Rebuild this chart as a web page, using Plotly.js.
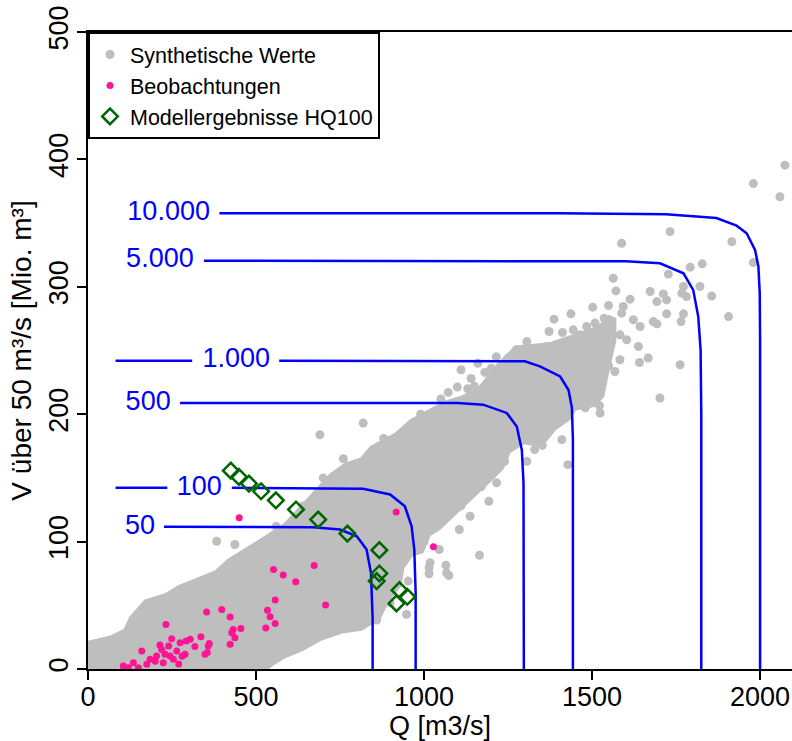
<!DOCTYPE html>
<html>
<head>
<meta charset="utf-8">
<script src="https://cdn.plot.ly/plotly-3.0.1.min.js"></script>
<style>html,body{margin:0;padding:0;background:#fff;}#chart{width:792px;height:741px;}</style>
</head>
<body>
<div id="chart"></div>
<script>
// ---- Dense core of the synthetic cloud (outline, Q / V) ----
const cloudQ = [0,36,74,116,134,176,235,274,333,384,423,491,533,592,670,729,771,818,848,920,967,1018,1068,1116,1167,1226,1277,1375,1464,1524,1559,
  1559,1539,1524,1503,1443,1426,1384,1345,1295,1247,1226,1187,1128,1098,1039,1009,988,958,929,920,884,860,810,750,690,631,580,542,518,0];
const cloudV = [18.6,20.9,23.3,28.8,39,51.5,56.2,62.5,67.9,74.2,83.6,93.8,101.6,111.8,133,151,158.9,162.8,172.2,182.4,193.3,201.2,207.5,211.4,217.6,237.2,250.6,252.9,260.7,266.2,275.6,
  258.4,234.9,215.3,209,205.9,198.1,190.2,177.7,180.1,172.2,158.9,148.7,133,125.2,111.8,107.1,93.8,91.5,80.5,66.4,54.6,41.3,33.5,31.1,25.6,17,11.5,5.3,0,0];

// ---- Individual synthetic values outside / on the edge of the dense core ----
const synQ = [2074,1980,2059,1732,1588,1916,1980,1792,1828,1727,1563,1571,1673,1712,1722,1693,1772,1767,1781,1821,1856,1906,1772,1765,1722,1682,1693,1613,1593,1588,1549,1502,1536,1437,1387,1509,1484,1519,1537,1444,1464,1412,1372,1623,1643,1583,1603,1638,1519,1504,1539,1667,1641,1583,1549,1568,1762,1702,1306,1274,1325,1365,1410,1474,1110,1181,1099,1072,1522,1524,1410,1428,1352,1329,1306,1193,1216,1105,1137,1165,1045,1065,1074,1015,1015,948,953,810,859,899,690,819,383,437,1018,1067,1140,1160,1200,1215,1250,1180,1130,
  560,640,700,760,880,990,1050,1150,600,720,830,900,940,1000,1060,1110,1170,1240,1320,1400,1480];
const synV = [395.5,381,370.7,343.3,334.2,335.4,319,315.4,318,310,306.7,296.8,296.3,294.4,289.7,288.4,300.2,295,292.3,300.2,292.8,276.6,278.8,272.7,278.8,272.7,270.9,290.3,284.5,279.3,285.3,284,275.4,278.8,274.6,271.5,268.8,264.9,264.1,266.2,262.3,264.1,264.9,274.1,268.8,262.3,258.4,253.1,253.1,249.2,248,244.1,240.6,242.7,238,233.5,238.8,212.7,257,250.5,250.5,253.1,249.8,253.1,234.9,232.8,221.3,217.1,206.7,200.9,180,160.4,175.5,172.2,163,131.7,146.1,109.5,119.9,89.3,93.8,81.5,73.4,79.5,74.8,42.9,69,34.5,38.4,52,183.9,193.1,100.3,97.7,83.4,75.5,228,240,236,245,244,222,220,
  112,128,150,165,181,200,212,222,18,30,42,63,86,100,118,128,143,163,182,195,205];

// ---- Observations ----
const obsQ = [450,917,1028,673,552,581,618,557,707,353,398,423,534,542,557,529,232,432,455,428,437,423,336,358,348,318,292,304,274,249,214,219,264,289,244,204,160,185,135,105,224,175,254,229,361,355,270,200,150,120,240,280];
const obsV = [118.7,123.3,95.9,81.3,78.1,73.7,68.5,54.1,50.2,44.7,46.8,40.8,46.2,41.1,35.8,32.1,35,31.1,31.7,28.5,24.6,19.4,25.4,18,11.5,17.6,21.9,23.3,20.7,23.8,18.8,15.4,14.1,11.5,10.2,10.2,14.1,7.6,5,2.4,5,3.7,7.6,11.5,20,13,4,6,1,1,18,10];

// ---- Model results HQ100 ----
const hqQ = [425,449,479,515,559,619,685,772,867,867,859,927,950,918];
const hqV = [155.7,150.8,145.5,139.5,132.4,125.2,117.3,106.3,93.3,75,69,61.9,56.7,51.5];

// ---- Return-period isolines ----
const iso10000Q = [391,1400,1720,1870,1930,1960,1985,1995,1999,2000,2000];
const iso10000V = [357.7,357.7,357,354,348,342,329,316,295,260,0];
const iso5000Q = [345,1400,1600,1702,1772,1801,1816,1823,1825,1825];
const iso5000V = [320.5,320.5,320,318.5,310.6,297.6,276.6,250.5,200,0];
const iso1000Q = [82,310,null,569,1200,1300,1345,1405,1430,1440,1443,1443];
const iso1000V = [242,242,null,242,242,241.5,237.5,229.6,219,205,180,0];
const iso500Q = [274,1100,1176,1246,1276,1291,1296,1297];
const iso500V = [208.8,208.8,207.5,201,190.4,172,146,0];
const iso100Q = [82,236,null,428,819,899,943,963,971,975,975];
const iso100V = [142.2,142.2,null,142.2,141.4,137,127.7,112,93.8,60,0];
const iso50Q = [226,670,750,800,829,842,847,847];
const iso50V = [111.6,111.3,109.5,104.2,93.8,75.5,40,0];

const isoLabels = ['10.000','5.000','1.000','500','100','50'];
const isoLabelQ = [240,214,441,179,331,155];
const isoLabelV = [357.7,320.5,242,208.8,142.2,111.6];

const tickVals = [0,500,1000,1500,2000];
const yTickVals = [0,100,200,300,400,500];

const FONT = '"Liberation Sans", Arial, sans-serif';
const GRAY = '#bebebe', PINK = '#ff1493', GREEN = '#006400', BLUE = '#0000ff';

const isoSets = [[iso10000Q,iso10000V],[iso5000Q,iso5000V],[iso1000Q,iso1000V],[iso500Q,iso500V],[iso100Q,iso100V],[iso50Q,iso50V]];

const traces = [];
traces.push({x: cloudQ, y: cloudV, type: 'scatter', mode: 'lines', fill: 'toself',
  fillcolor: GRAY, line: {color: GRAY, width: 9}, showlegend: false, hoverinfo: 'skip'});
traces.push({x: synQ, y: synV, type: 'scatter', mode: 'markers', name: 'Synthetische Werte',
  marker: {color: GRAY, size: 9}});
isoSets.forEach(s => traces.push({x: s[0], y: s[1], type: 'scatter', mode: 'lines',
  line: {color: BLUE, width: 2.5}, showlegend: false, connectgaps: false, hoverinfo: 'skip'}));
traces.push({x: isoLabelQ, y: isoLabelV, text: isoLabels, type: 'scatter', mode: 'text',
  textposition: 'middle center', textfont: {family: FONT, size: 27, color: BLUE}, showlegend: false, hoverinfo: 'skip'});
traces.push({x: obsQ, y: obsV, type: 'scatter', mode: 'markers', name: 'Beobachtungen',
  marker: {color: PINK, size: 7}});
traces.push({x: hqQ, y: hqV, type: 'scatter', mode: 'markers', name: 'Modellergebnisse HQ100',
  marker: {symbol: 'diamond-open', color: GREEN, size: 12, line: {color: GREEN, width: 2.5}}});

const layout = {
  width: 792, height: 741,
  margin: {l: 88, r: 0, t: 32, b: 72, pad: 0},
  paper_bgcolor: '#fff', plot_bgcolor: '#fff',
  font: {family: FONT, color: '#000'},
  showlegend: true,
  legend: {x: 0, y: 1, xanchor: 'left', yanchor: 'top', bgcolor: '#fff', bordercolor: '#000', borderwidth: 2,
    font: {family: FONT, size: 21.5, color: '#000'}, tracegroupgap: 0},
  xaxis: {range: [0, 2095], showgrid: false, zeroline: false, showline: true, mirror: true,
    linecolor: '#000', linewidth: 2, ticks: 'outside', ticklen: 9, tickwidth: 2, tickcolor: '#000',
    tickvals: tickVals, ticktext: tickVals.map(String), tickfont: {family: FONT, size: 27},
    ticklabelstandoff: -6,
    title: {text: 'Q [m3/s]', font: {family: FONT, size: 27}, standoff: 16}},
  yaxis: {range: [0, 500], showgrid: false, zeroline: false, showline: true, mirror: false,
    linecolor: '#000', linewidth: 2, ticks: 'outside', ticklen: 9, tickwidth: 2, tickcolor: '#000',
    tickvals: yTickVals, ticktext: yTickVals.map(String), tickangle: -90, tickfont: {family: FONT, size: 27},
    ticklabelstandoff: -2,
    title: {text: 'V über 50 m³/s [Mio. m³]', font: {family: FONT, size: 28}, standoff: 4}}
};

Plotly.newPlot('chart', traces, layout, {staticPlot: true, displayModeBar: false});
</script>
</body>
</html>
